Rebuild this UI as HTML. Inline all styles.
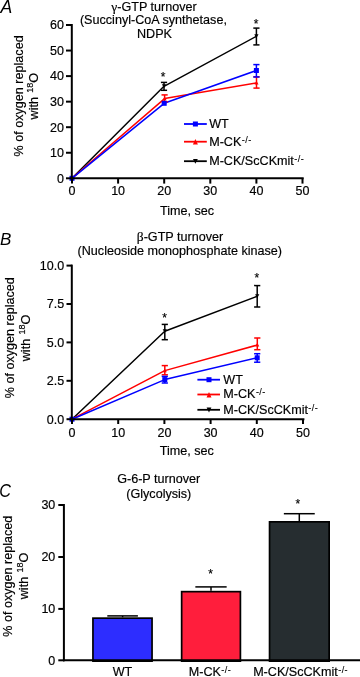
<!DOCTYPE html>
<html><head><meta charset="utf-8"><style>
html,body{margin:0;padding:0;background:#fff;}
body{width:360px;height:677px;overflow:hidden;}
svg{display:block;will-change:transform;font-family:"Liberation Sans",sans-serif;fill:#000;}
text{stroke:#000;stroke-width:0.18px;}
</style></head><body>
<svg width="360" height="677" viewBox="0 0 360 677">
<text x="0.4" y="12.7" font-size="17.6" text-anchor="start" font-style="italic" style="stroke-width:0">A</text>
<text x="154" y="10.6" font-size="12.6" text-anchor="middle" ><tspan font-family="Liberation Serif" font-size="13.5">γ</tspan>-GTP turnover</text>
<text x="153.4" y="24" font-size="12.6" text-anchor="middle" >(Succinyl-CoA synthetase,</text>
<text x="154.5" y="37.6" font-size="12.6" text-anchor="middle" >NDPK</text>
<text x="64" y="182.6" font-size="12.5" text-anchor="end" >0</text>
<text x="64" y="157.05" font-size="12.5" text-anchor="end" >10</text>
<text x="64" y="131.5" font-size="12.5" text-anchor="end" >20</text>
<text x="64" y="105.95" font-size="12.5" text-anchor="end" >30</text>
<text x="64" y="80.4" font-size="12.5" text-anchor="end" >40</text>
<text x="64" y="54.85" font-size="12.5" text-anchor="end" >50</text>
<text x="64" y="29.3" font-size="12.5" text-anchor="end" >60</text>
<text x="72.0" y="195.3" font-size="12.5" text-anchor="middle" >0</text>
<text x="118.1" y="195.3" font-size="12.5" text-anchor="middle" >10</text>
<text x="164.2" y="195.3" font-size="12.5" text-anchor="middle" >20</text>
<text x="210.3" y="195.3" font-size="12.5" text-anchor="middle" >30</text>
<text x="256.4" y="195.3" font-size="12.5" text-anchor="middle" >40</text>
<text x="302.5" y="195.3" font-size="12.5" text-anchor="middle" >50</text>
<text x="187" y="215.1" font-size="12.6" text-anchor="middle" >Time, sec</text>
<text transform="translate(22.8,95.9) rotate(-90)" font-size="12.6" text-anchor="middle">% of oxygen replaced</text>
<text transform="translate(37.9,96.2) rotate(-90)" font-size="12.6" text-anchor="middle">with <tspan font-size="9" dy="-4.8" dx="0.8">18</tspan><tspan dy="4.8">O</tspan></text>
<polyline points="72,178.3 164,86.3 256.4,36.3" fill="none" stroke="#000000" stroke-width="1.5" stroke-linejoin="round"/>
<polyline points="72,178.3 164.6,98.6 256.5,83.0" fill="none" stroke="#ff0000" stroke-width="1.5" stroke-linejoin="round"/>
<polyline points="72,178.3 164.2,103.3 256.4,70.5" fill="none" stroke="#0000ff" stroke-width="1.5" stroke-linejoin="round"/>
<line x1="164" y1="82.4" x2="164" y2="90.3" stroke="#000000" stroke-width="1.5"/>
<line x1="160.9" y1="82.4" x2="167.1" y2="82.4" stroke="#000000" stroke-width="1.5"/>
<line x1="160.9" y1="90.3" x2="167.1" y2="90.3" stroke="#000000" stroke-width="1.5"/>
<line x1="256.4" y1="28.1" x2="256.4" y2="44.9" stroke="#000000" stroke-width="1.5"/>
<line x1="253.3" y1="28.1" x2="259.5" y2="28.1" stroke="#000000" stroke-width="1.5"/>
<line x1="253.3" y1="44.9" x2="259.5" y2="44.9" stroke="#000000" stroke-width="1.5"/>
<line x1="164.6" y1="94.9" x2="164.6" y2="101.7" stroke="#ff0000" stroke-width="1.5"/>
<line x1="161.5" y1="94.9" x2="167.7" y2="94.9" stroke="#ff0000" stroke-width="1.5"/>
<line x1="161.5" y1="101.7" x2="167.7" y2="101.7" stroke="#ff0000" stroke-width="1.5"/>
<line x1="256.5" y1="76.8" x2="256.5" y2="88.1" stroke="#ff0000" stroke-width="1.5"/>
<line x1="253.4" y1="76.8" x2="259.6" y2="76.8" stroke="#ff0000" stroke-width="1.5"/>
<line x1="253.4" y1="88.1" x2="259.6" y2="88.1" stroke="#ff0000" stroke-width="1.5"/>
<line x1="256.4" y1="64.6" x2="256.4" y2="77.0" stroke="#0000ff" stroke-width="1.5"/>
<line x1="253.3" y1="64.6" x2="259.5" y2="64.6" stroke="#0000ff" stroke-width="1.5"/>
<line x1="253.3" y1="77.0" x2="259.5" y2="77.0" stroke="#0000ff" stroke-width="1.5"/>
<polygon points="72,180.2 69.9,176.3 74.1,176.3" fill="#000000"/>
<polygon points="164,88.2 161.9,84.3 166.1,84.3" fill="#000000"/>
<polygon points="256.4,38.2 254.3,34.3 258.5,34.3" fill="#000000"/>
<polygon points="72,176.1 70.0,179.9 74.0,179.9" fill="#ff0000"/>
<polygon points="164.6,96.4 162.6,100.2 166.6,100.2" fill="#ff0000"/>
<polygon points="256.5,80.8 254.5,84.6 258.5,84.6" fill="#ff0000"/>
<rect x="69.5" y="175.8" width="5" height="5" fill="#0000ff"/>
<rect x="161.7" y="100.8" width="5" height="5" fill="#0000ff"/>
<rect x="253.9" y="68.0" width="5" height="5" fill="#0000ff"/>
<text x="163" y="80.5" font-size="12" text-anchor="middle" >*</text>
<text x="256" y="27.6" font-size="12" text-anchor="middle" >*</text>
<line x1="184" y1="124" x2="206.8" y2="124" stroke="#0000ff" stroke-width="1.8"/>
<rect x="192.9" y="121.5" width="5" height="5" fill="#0000ff"/>
<text x="209.2" y="127.9" font-size="12.6" text-anchor="start" >WT</text>
<line x1="184" y1="141.7" x2="206.8" y2="141.7" stroke="#ff0000" stroke-width="1.8"/>
<polygon points="195.4,139.1 192.9,144.6 197.9,144.6" fill="#ff0000"/>
<text x="209.2" y="145.6" font-size="12.6" text-anchor="start" >M-CK<tspan font-size="9" dy="-3.1" dx="0.4" letter-spacing="0.45" style="stroke-width:0.1px">-/-</tspan></text>
<line x1="184" y1="161.2" x2="206.8" y2="161.2" stroke="#000000" stroke-width="1.8"/>
<polygon points="195.4,163.8 193.0,159.0 197.8,159.0" fill="#000000"/>
<text x="209.2" y="165.1" font-size="12.6" text-anchor="start" >M-CK/ScCKmit<tspan font-size="9" dy="-3.1" dx="0.4" letter-spacing="0.45" style="stroke-width:0.1px">-/-</tspan></text>
<line x1="71.8" y1="24.0" x2="71.8" y2="179.3" stroke="#000000" stroke-width="2"/>
<line x1="70.8" y1="178.3" x2="303.7" y2="178.3" stroke="#000000" stroke-width="2"/>
<line x1="66" y1="178.3" x2="71.8" y2="178.3" stroke="#000000" stroke-width="2"/>
<line x1="66" y1="152.75" x2="71.8" y2="152.75" stroke="#000000" stroke-width="2"/>
<line x1="66" y1="127.2" x2="71.8" y2="127.2" stroke="#000000" stroke-width="2"/>
<line x1="66" y1="101.65" x2="71.8" y2="101.65" stroke="#000000" stroke-width="2"/>
<line x1="66" y1="76.1" x2="71.8" y2="76.1" stroke="#000000" stroke-width="2"/>
<line x1="66" y1="50.55" x2="71.8" y2="50.55" stroke="#000000" stroke-width="2"/>
<line x1="66" y1="25.0" x2="71.8" y2="25.0" stroke="#000000" stroke-width="2"/>
<line x1="72.0" y1="178.3" x2="72.0" y2="183.6" stroke="#000000" stroke-width="2"/>
<line x1="118.1" y1="178.3" x2="118.1" y2="183.6" stroke="#000000" stroke-width="2"/>
<line x1="164.2" y1="178.3" x2="164.2" y2="183.6" stroke="#000000" stroke-width="2"/>
<line x1="210.3" y1="178.3" x2="210.3" y2="183.6" stroke="#000000" stroke-width="2"/>
<line x1="256.4" y1="178.3" x2="256.4" y2="183.6" stroke="#000000" stroke-width="2"/>
<line x1="302.5" y1="178.3" x2="302.5" y2="183.6" stroke="#000000" stroke-width="2"/>
<text x="0" y="245.1" font-size="17" text-anchor="start" font-style="italic" style="stroke-width:0">B</text>
<text x="180" y="241.1" font-size="12.6" text-anchor="middle" ><tspan font-family="Liberation Serif" font-size="13.5">β</tspan>-GTP turnover</text>
<text x="179.8" y="255" font-size="12.6" text-anchor="middle" >(Nucleoside monophosphate kinase)</text>
<text x="64.2" y="423.5" font-size="12.5" text-anchor="end" >0.0</text>
<text x="64.2" y="385.1" font-size="12.5" text-anchor="end" >2.5</text>
<text x="64.2" y="346.7" font-size="12.5" text-anchor="end" >5.0</text>
<text x="64.2" y="308.3" font-size="12.5" text-anchor="end" >7.5</text>
<text x="64.2" y="269.9" font-size="12.5" text-anchor="end" >10.0</text>
<text x="72.0" y="436.7" font-size="12.5" text-anchor="middle" >0</text>
<text x="118.2" y="436.7" font-size="12.5" text-anchor="middle" >10</text>
<text x="164.4" y="436.7" font-size="12.5" text-anchor="middle" >20</text>
<text x="210.6" y="436.7" font-size="12.5" text-anchor="middle" >30</text>
<text x="256.8" y="436.7" font-size="12.5" text-anchor="middle" >40</text>
<text x="303.0" y="436.7" font-size="12.5" text-anchor="middle" >50</text>
<text x="186.8" y="455.3" font-size="12.6" text-anchor="middle" >Time, sec</text>
<text transform="translate(14.4,337.7) rotate(-90)" font-size="12.6" text-anchor="middle">% of oxygen replaced</text>
<text transform="translate(29.8,338) rotate(-90)" font-size="12.6" text-anchor="middle">with <tspan font-size="9" dy="-4.8" dx="0.8">18</tspan><tspan dy="4.8">O</tspan></text>
<polyline points="72,419.2 164.8,331.2 257.2,296.3" fill="none" stroke="#000000" stroke-width="1.5" stroke-linejoin="round"/>
<polyline points="72,419.2 164.8,370.6 257.3,345" fill="none" stroke="#ff0000" stroke-width="1.5" stroke-linejoin="round"/>
<polyline points="72,419.2 164.8,379.6 257.2,357.8" fill="none" stroke="#0000ff" stroke-width="1.5" stroke-linejoin="round"/>
<line x1="164.8" y1="324.4" x2="164.8" y2="339.7" stroke="#000000" stroke-width="1.5"/>
<line x1="161.7" y1="324.4" x2="167.9" y2="324.4" stroke="#000000" stroke-width="1.5"/>
<line x1="161.7" y1="339.7" x2="167.9" y2="339.7" stroke="#000000" stroke-width="1.5"/>
<line x1="257.2" y1="285.6" x2="257.2" y2="307" stroke="#000000" stroke-width="1.5"/>
<line x1="254.1" y1="285.6" x2="260.3" y2="285.6" stroke="#000000" stroke-width="1.5"/>
<line x1="254.1" y1="307" x2="260.3" y2="307" stroke="#000000" stroke-width="1.5"/>
<line x1="164.8" y1="365.6" x2="164.8" y2="374.8" stroke="#ff0000" stroke-width="1.5"/>
<line x1="161.7" y1="365.6" x2="167.9" y2="365.6" stroke="#ff0000" stroke-width="1.5"/>
<line x1="161.7" y1="374.8" x2="167.9" y2="374.8" stroke="#ff0000" stroke-width="1.5"/>
<line x1="257.3" y1="338" x2="257.3" y2="349.7" stroke="#ff0000" stroke-width="1.5"/>
<line x1="254.2" y1="338" x2="260.4" y2="338" stroke="#ff0000" stroke-width="1.5"/>
<line x1="254.2" y1="349.7" x2="260.4" y2="349.7" stroke="#ff0000" stroke-width="1.5"/>
<line x1="164.8" y1="376.4" x2="164.8" y2="383.0" stroke="#0000ff" stroke-width="1.5"/>
<line x1="161.7" y1="376.4" x2="167.9" y2="376.4" stroke="#0000ff" stroke-width="1.5"/>
<line x1="161.7" y1="383.0" x2="167.9" y2="383.0" stroke="#0000ff" stroke-width="1.5"/>
<line x1="257.2" y1="353.7" x2="257.2" y2="362.2" stroke="#0000ff" stroke-width="1.5"/>
<line x1="254.1" y1="353.7" x2="260.3" y2="353.7" stroke="#0000ff" stroke-width="1.5"/>
<line x1="254.1" y1="362.2" x2="260.3" y2="362.2" stroke="#0000ff" stroke-width="1.5"/>
<polygon points="72,421.1 69.9,417.2 74.1,417.2" fill="#000000"/>
<polygon points="164.8,333.1 162.7,329.2 166.9,329.2" fill="#000000"/>
<polygon points="257.2,298.2 255.1,294.3 259.3,294.3" fill="#000000"/>
<polygon points="72,417.0 70.0,420.8 74.0,420.8" fill="#ff0000"/>
<polygon points="164.8,368.4 162.8,372.2 166.8,372.2" fill="#ff0000"/>
<polygon points="257.3,342.8 255.3,346.6 259.3,346.6" fill="#ff0000"/>
<rect x="69.5" y="416.7" width="5" height="5" fill="#0000ff"/>
<rect x="162.3" y="377.1" width="5" height="5" fill="#0000ff"/>
<rect x="254.7" y="355.3" width="5" height="5" fill="#0000ff"/>
<text x="164.6" y="322.2" font-size="12" text-anchor="middle" >*</text>
<text x="256.8" y="282.2" font-size="12" text-anchor="middle" >*</text>
<line x1="197.4" y1="379.7" x2="220" y2="379.7" stroke="#0000ff" stroke-width="1.8"/>
<rect x="206.5" y="377.2" width="5" height="5" fill="#0000ff"/>
<text x="223.3" y="383.6" font-size="12.6" text-anchor="start" >WT</text>
<line x1="197.4" y1="394.5" x2="220" y2="394.5" stroke="#ff0000" stroke-width="1.8"/>
<polygon points="209,391.9 206.5,397.4 211.5,397.4" fill="#ff0000"/>
<text x="223.3" y="398.4" font-size="12.6" text-anchor="start" >M-CK<tspan font-size="9" dy="-3.1" dx="0.4" letter-spacing="0.45" style="stroke-width:0.1px">-/-</tspan></text>
<line x1="197.4" y1="409.8" x2="220" y2="409.8" stroke="#000000" stroke-width="1.8"/>
<polygon points="209,412.4 206.6,407.6 211.4,407.6" fill="#000000"/>
<text x="223.3" y="413.7" font-size="12.6" text-anchor="start" >M-CK/ScCKmit<tspan font-size="9" dy="-3.1" dx="0.4" letter-spacing="0.45" style="stroke-width:0.1px">-/-</tspan></text>
<line x1="71.8" y1="264.6" x2="71.8" y2="420.2" stroke="#000000" stroke-width="2"/>
<line x1="70.8" y1="419.2" x2="304.4" y2="419.2" stroke="#000000" stroke-width="2"/>
<line x1="66.5" y1="419.2" x2="71.8" y2="419.2" stroke="#000000" stroke-width="2"/>
<line x1="66.5" y1="380.8" x2="71.8" y2="380.8" stroke="#000000" stroke-width="2"/>
<line x1="66.5" y1="342.4" x2="71.8" y2="342.4" stroke="#000000" stroke-width="2"/>
<line x1="66.5" y1="304.0" x2="71.8" y2="304.0" stroke="#000000" stroke-width="2"/>
<line x1="66.5" y1="265.6" x2="71.8" y2="265.6" stroke="#000000" stroke-width="2"/>
<line x1="72.0" y1="419.2" x2="72.0" y2="424" stroke="#000000" stroke-width="2"/>
<line x1="118.2" y1="419.2" x2="118.2" y2="424" stroke="#000000" stroke-width="2"/>
<line x1="164.4" y1="419.2" x2="164.4" y2="424" stroke="#000000" stroke-width="2"/>
<line x1="210.6" y1="419.2" x2="210.6" y2="424" stroke="#000000" stroke-width="2"/>
<line x1="256.8" y1="419.2" x2="256.8" y2="424" stroke="#000000" stroke-width="2"/>
<line x1="303.0" y1="419.2" x2="303.0" y2="424" stroke="#000000" stroke-width="2"/>
<text transform="translate(-0.8,496.7) scale(0.9,1)" font-size="18" font-style="italic" style="stroke-width:0">C</text>
<text x="158.7" y="483.3" font-size="12.6" text-anchor="middle" >G-6-P turnover</text>
<text x="158.8" y="497.8" font-size="12.6" text-anchor="middle" >(Glycolysis)</text>
<text x="55.3" y="664.6" font-size="12.5" text-anchor="end" >0</text>
<text x="55.3" y="613.2" font-size="12.5" text-anchor="end" >10</text>
<text x="55.3" y="561.3" font-size="12.5" text-anchor="end" >20</text>
<text x="55.3" y="509.3" font-size="12.5" text-anchor="end" >30</text>
<text transform="translate(12.4,576.25) rotate(-90)" font-size="12.6" text-anchor="middle">% of oxygen replaced</text>
<text transform="translate(27.5,576) rotate(-90)" font-size="12.6" text-anchor="middle">with <tspan font-size="9" dy="-4.8" dx="0.8">18</tspan><tspan dy="4.8">O</tspan></text>
<line x1="122.6" y1="615.9" x2="122.6" y2="617.3" stroke="#000000" stroke-width="1.5"/>
<line x1="107.3" y1="615.9" x2="137.9" y2="615.9" stroke="#000000" stroke-width="1.5"/>
<rect x="92.95" y="618.15" width="59.1" height="43.0" fill="#2d2dff" stroke="#000" stroke-width="1.7"/>
<line x1="211" y1="586.9" x2="211" y2="590.8" stroke="#000000" stroke-width="1.5"/>
<line x1="195.35" y1="586.9" x2="226.65" y2="586.9" stroke="#000000" stroke-width="1.5"/>
<rect x="181.65" y="591.65" width="58.75" height="69.5" fill="#ff1e3c" stroke="#000" stroke-width="1.7"/>
<line x1="299.3" y1="513.7" x2="299.3" y2="521" stroke="#000000" stroke-width="1.5"/>
<line x1="283.85" y1="513.7" x2="314.75" y2="513.7" stroke="#000000" stroke-width="1.5"/>
<rect x="269.55" y="521.85" width="59.6" height="139.3" fill="#262d30" stroke="#000" stroke-width="1.7"/>
<text x="210.5" y="578.0" font-size="12" text-anchor="middle" >*</text>
<text x="297.8" y="508.0" font-size="12" text-anchor="middle" >*</text>
<line x1="63.9" y1="504" x2="63.9" y2="661.3" stroke="#000000" stroke-width="2"/>
<line x1="62.9" y1="660.3" x2="360" y2="660.3" stroke="#000000" stroke-width="2"/>
<line x1="58.3" y1="660.3" x2="63.9" y2="660.3" stroke="#000000" stroke-width="2"/>
<line x1="58.3" y1="608.9" x2="63.9" y2="608.9" stroke="#000000" stroke-width="2"/>
<line x1="58.3" y1="557.0" x2="63.9" y2="557.0" stroke="#000000" stroke-width="2"/>
<line x1="58.3" y1="505.0" x2="63.9" y2="505.0" stroke="#000000" stroke-width="2"/>
<text x="122.5" y="675.6" font-size="12.6" text-anchor="middle" >WT</text>
<text x="210" y="675.8" font-size="12.6" text-anchor="middle" >M-CK<tspan font-size="9" dy="-3.1" dx="0.4" letter-spacing="0.45" style="stroke-width:0.1px">-/-</tspan></text>
<text x="300.6" y="675.8" font-size="12.6" text-anchor="middle" >M-CK/ScCKmit<tspan font-size="9" dy="-3.1" dx="0.4" letter-spacing="0.45" style="stroke-width:0.1px">-/-</tspan></text>
</svg>
</body></html>
